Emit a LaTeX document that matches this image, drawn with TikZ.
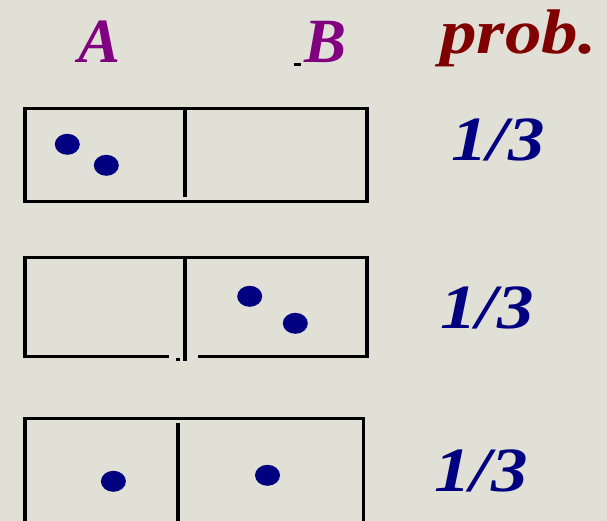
\documentclass[tikz,border=0pt]{standalone}
\usepackage{fontspec}
\setmainfont{Liberation Serif}
\definecolor{bg}{RGB}{224,224,214}
\definecolor{lbl}{RGB}{128,0,128}
\definecolor{prb}{RGB}{128,0,0}
\definecolor{nv}{RGB}{0,0,128}
\newcommand{\wide}[1]{\scalebox{1.16}[1]{#1}}
\begin{document}
\begin{tikzpicture}[x=1pt,y=-1pt,
  box/.style={line width=3.5pt},
  dot/.style={fill=nv},
  txt/.style={font=\fontsize{63}{63}\selectfont\bfseries\itshape, inner sep=0pt, anchor=base west}]
\fill[bg] (0,0) rectangle (607,521);
\useasboundingbox (0,0) rectangle (607,521);
% header labels
\node[txt, text=lbl] (A) at (78,62.7) {A};
\node[txt, text=lbl] (B) at (304,62.7) {B};
\node[txt, text=prb] (P) at (440,53.3) {\wide{prob.}};
\fill (294,63) rectangle (301,65.7);
% box 1
\draw[box] (25,108.5) rectangle (367,201.5);
\draw[box] (185,108.5) -- (185,197);
\fill[dot] (67.3,144.3) ellipse [x radius=12.5, y radius=10.5];
\fill[dot] (106.3,165.3) ellipse [x radius=12.5, y radius=10.5];
\node[txt, text=nv] (p1) at (451,161) {\wide{1/3}};
% box 2
\draw[box] (169,356.5) -- (25,356.5) -- (25,257.5) -- (367,257.5) -- (367,356.5) -- (198,356.5);
\draw[box] (185,257.5) -- (185,360.7);
\fill (176,358) rectangle (180,360.7);
\fill[dot] (249.7,296.3) ellipse [x radius=12.5, y radius=10.5];
\fill[dot] (295.3,323.3) ellipse [x radius=12.5, y radius=10.5];
\node[txt, text=nv] (p2) at (440,328) {\wide{1/3}};
% box 3
\draw[box] (25,525) -- (25,418.5) -- (363.5,418.5) -- (363.5,525);
\draw[box] (178,423) -- (178,525);
\fill[dot] (113.4,481.3) ellipse [x radius=12.5, y radius=10.5];
\fill[dot] (267.5,475.3) ellipse [x radius=12.5, y radius=10.5];
\node[txt, text=nv] (p3) at (434,491.7) {\wide{1/3}};
\end{tikzpicture}
\end{document}
